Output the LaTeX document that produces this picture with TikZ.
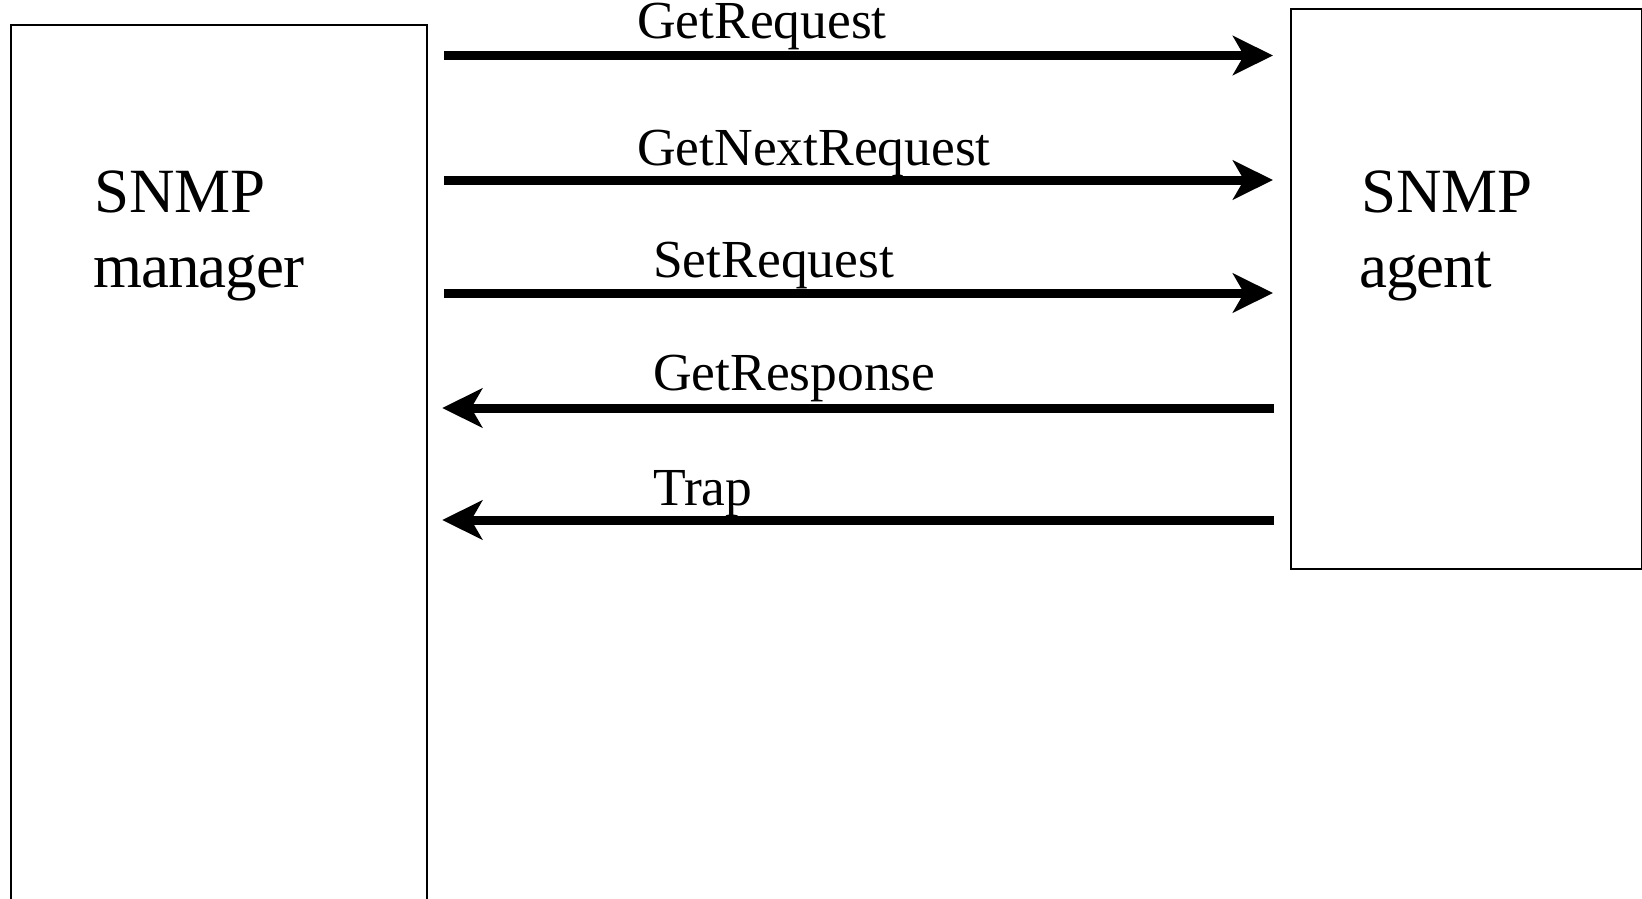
\documentclass[tikz,border=0pt]{standalone}
\usepackage{fontspec}
\setmainfont{Liberation Serif}
\usetikzlibrary{arrows.meta}

\tikzset{
  entity/.style={draw, line width=2.2pt, rectangle, inner sep=0pt, anchor=north west},
  boxtext/.style={anchor=base west, inner sep=0pt, font=\fontsize{63}{72}\selectfont},
  msgtext/.style={anchor=base west, inner sep=0pt, font=\fontsize{53.5}{64}\selectfont},
  msg/.style={line width=9pt, -{Stealth[length=40pt, width=39pt, inset=11pt]}},
}

\begin{document}
\begin{tikzpicture}[x=1pt, y=-1pt]
  \clip (0,0) rectangle (1642,899);
  \fill[white] (0,0) rectangle (1642,899);

  % the two communicating entities
  \node[entity, minimum width=416pt, minimum height=900pt] (mgr) at (10,24) {};
  \node[entity, minimum width=351pt, minimum height=560pt] (agt) at (1290,8) {};

  \node[boxtext] (mgrA) at (94,212) {SNMP};
  \node[boxtext] (mgrB) at (93,287) {\addfontfeatures{LetterSpace=-1.5}manager};
  \node[boxtext] (agtA) at (1361,212) {SNMP};
  \node[boxtext] (agtB) at (1359,287) {\addfontfeatures{LetterSpace=-1.5}agent};

  % message levels
  \coordinate (m1) at (0,55.5);
  \coordinate (m2) at (0,180);
  \coordinate (m3) at (0,293);
  \coordinate (m4) at (0,408);
  \coordinate (m5) at (0,520);

  % requests from manager to agent
  \draw[msg, shorten <=16pt, shorten >=17pt] (mgr.east |- m1) -- (agt.west |- m1);
  \draw[msg, shorten <=16pt, shorten >=17pt] (mgr.east |- m2) -- (agt.west |- m2);
  \draw[msg, shorten <=16pt, shorten >=17pt] (mgr.east |- m3) -- (agt.west |- m3);
  % replies and notifications from agent to manager
  \draw[msg, shorten <=16pt, shorten >=14pt] (agt.west |- m4) -- (mgr.east |- m4);
  \draw[msg, shorten <=16pt, shorten >=14pt] (agt.west |- m5) -- (mgr.east |- m5);

  \node[msgtext] (l1) at (637,39) {GetRequest};
  \node[msgtext] (l2) at (637,165) {GetNextRequest};
  \node[msgtext] (l3) at (653,277) {SetRequest};
  \node[msgtext] (l4) at (653,390) {GetResponse};
  \node[msgtext] (l5) at (653,505) {Trap};
\end{tikzpicture}
\end{document}
